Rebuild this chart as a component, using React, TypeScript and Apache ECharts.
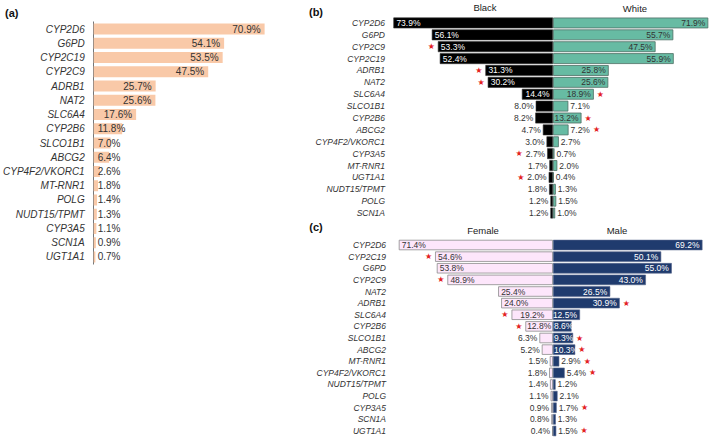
import React, { useEffect, useRef } from "react";
import * as echarts from "echarts";

const aGenes = ["CYP2D6", "G6PD", "CYP2C19", "CYP2C9", "ADRB1", "NAT2", "SLC6A4", "CYP2B6", "SLCO1B1", "ABCG2", "CYP4F2/VKORC1", "MT-RNR1", "POLG", "NUDT15/TPMT", "CYP3A5", "SCN1A", "UGT1A1"];
const aValues = [70.9, 54.1, 53.5, 47.5, 25.7, 25.6, 17.6, 11.8, 7.0, 6.4, 2.6, 1.8, 1.4, 1.3, 1.1, 0.9, 0.7];

const bGenes = ["CYP2D6", "G6PD", "CYP2C9", "CYP2C19", "ADRB1", "NAT2", "SLC6A4", "SLCO1B1", "CYP2B6", "ABCG2", "CYP4F2/VKORC1", "CYP3A5", "MT-RNR1", "UGT1A1", "NUDT15/TPMT", "POLG", "SCN1A"];
const blackValues = [73.9, 56.1, 53.3, 52.4, 31.3, 30.2, 14.4, 8.0, 8.2, 4.7, 3.0, 2.7, 1.7, 2.0, 1.8, 1.2, 1.2];
const whiteValues = [71.9, 55.7, 47.5, 55.9, 25.8, 25.6, 18.9, 7.1, 13.2, 7.2, 2.7, 0.7, 2.0, 0.4, 1.3, 1.5, 1.0];
const blackStars = ["CYP2C9", "ADRB1", "NAT2", "CYP3A5", "UGT1A1"];
const whiteStars = ["SLC6A4", "CYP2B6", "ABCG2"];

const cGenes = ["CYP2D6", "CYP2C19", "G6PD", "CYP2C9", "NAT2", "ADRB1", "SLC6A4", "CYP2B6", "SLCO1B1", "ABCG2", "MT-RNR1", "CYP4F2/VKORC1", "NUDT15/TPMT", "POLG", "CYP3A5", "SCN1A", "UGT1A1"];
const femaleValues = [71.4, 54.6, 53.8, 48.9, 25.4, 24.0, 19.2, 12.8, 6.3, 5.2, 1.5, 1.8, 1.4, 1.1, 0.9, 0.8, 0.4];
const maleValues = [69.2, 50.1, 55.0, 43.0, 26.5, 30.9, 12.5, 8.6, 9.3, 10.3, 2.9, 5.4, 1.2, 2.1, 1.7, 1.3, 1.5];
const femaleStars = ["CYP2C19", "CYP2C9", "SLC6A4", "CYP2B6"];
const maleStars = ["ADRB1", "SLCO1B1", "ABCG2", "MT-RNR1", "CYP4F2/VKORC1", "CYP3A5", "UGT1A1"];

const FONT = "'Liberation Sans', Arial, sans-serif";
const SMALL = 8.5;
const fmt = (v: number) => v.toFixed(1) + "%";
const textW = (v: number, fs: number) => {
  const s = fmt(v);
  let w = 0;
  for (const ch of s) w += ch === "." ? 0.278 : ch === "%" ? 0.889 : 0.556;
  return w * fs;
};

function leftLabel(v: number, insideColor: string) {
  if (v >= 20) return { position: "insideLeft", distance: 3, color: insideColor };
  if (v >= 12) return { position: "inside", color: insideColor };
  return { position: "left", distance: 2, color: "#333" };
}
function rightLabel(v: number, insideColor: string, allowStart: boolean) {
  if (v >= 12.2) return { position: "insideRight", distance: 3, color: insideColor };
  if (allowStart && v >= 8) return { position: "insideLeft", distance: 1, color: insideColor };
  return { position: "right", distance: 2, color: "#333" };
}

function sideSeries(
  name: string,
  genes: string[],
  values: number[],
  stars: string[],
  side: "left" | "right",
  xIdx: number,
  yIdx: number,
  itemStyle: any,
  insideColor: string,
  allowStart: boolean,
  barWidth: number
) {
  const main = {
    name,
    type: "bar",
    xAxisIndex: xIdx,
    yAxisIndex: yIdx,
    barWidth,
    barGap: "-100%",
    itemStyle,
    label: { show: true, fontSize: SMALL, fontFamily: FONT, formatter: (p: any) => fmt(p.value) },
    data: values.map((v) => ({
      value: v,
      label: side === "left" ? leftLabel(v, insideColor) : rightLabel(v, insideColor, allowStart),
    })),
  };
  const starSeries = {
    name: name + "-stars",
    type: "bar",
    xAxisIndex: xIdx,
    yAxisIndex: yIdx,
    barWidth,
    barGap: "-100%",
    silent: true,
    itemStyle: { color: "rgba(0,0,0,0)" },
    label: { show: false },
    data: values.map((v, i) => {
      const starred = stars.includes(genes[i]);
      const lab = side === "left" ? leftLabel(v, insideColor) : rightLabel(v, insideColor, allowStart);
      const outside = lab.position === "left" || lab.position === "right";
      return {
        value: v,
        label: {
          show: starred,
          position: side,
          distance: outside ? 2 + textW(v, SMALL) + 3 : 3,
          formatter: "★",
          color: "#e3231f",
          fontSize: 8,
          fontFamily: "DejaVu Sans, sans-serif",
        },
      };
    }),
  };
  return [main, starSeries];
}

export default function App() {
  const ref = useRef<HTMLDivElement>(null);
  useEffect(() => {
    if (!ref.current) return;
    const chart = echarts.init(ref.current, null, { renderer: "svg" });
    const yLabelSmall = { fontSize: SMALL, fontStyle: "italic", color: "#333", fontFamily: FONT, interval: 0 };
    const option: any = {
      animation: false,
      backgroundColor: "#fff",
      grid: [
        { left: 93, top: 21.9, width: 181.5, height: 242.2 },
        { left: 391, top: 17, width: 162, height: 202 },
        { left: 553, top: 17, width: 155.5, height: 202 },
        { left: 391, top: 239.2, width: 162, height: 197.6 },
        { left: 553, top: 239.2, width: 155.5, height: 197.6 },
      ],
      xAxis: [
        { type: "value", gridIndex: 0, min: 0, max: 75, show: false },
        { type: "value", gridIndex: 1, min: 0, max: 75, inverse: true, show: false },
        { type: "value", gridIndex: 2, min: 0, max: 72, show: false },
        { type: "value", gridIndex: 3, min: 0, max: 75, inverse: true, show: false },
        { type: "value", gridIndex: 4, min: 0, max: 72, show: false },
      ],
      yAxis: [
        {
          type: "category", gridIndex: 0, data: aGenes, inverse: true,
          axisLine: { show: true, lineStyle: { color: "#777", width: 1 } },
          axisTick: { show: false },
          axisLabel: { fontSize: 10, fontStyle: "italic", color: "#333", fontFamily: FONT, margin: 9, interval: 0 },
        },
        {
          type: "category", gridIndex: 1, data: bGenes, inverse: true, position: "left",
          axisLine: { show: false, onZero: false }, axisTick: { show: false },
          axisLabel: { ...yLabelSmall, margin: 6 },
        },
        { type: "category", gridIndex: 2, data: bGenes, inverse: true, show: false },
        {
          type: "category", gridIndex: 3, data: cGenes, inverse: true, position: "left",
          axisLine: { show: false, onZero: false }, axisTick: { show: false },
          axisLabel: { ...yLabelSmall, margin: 5 },
        },
        { type: "category", gridIndex: 4, data: cGenes, inverse: true, show: false },
      ],
      series: [
        {
          name: "All",
          type: "bar",
          xAxisIndex: 0,
          yAxisIndex: 0,
          barWidth: 11,
          itemStyle: { color: "#f9c9a8" },
          label: { show: true, fontSize: 10, color: "#333", fontFamily: FONT, formatter: (p: any) => fmt(p.value) },
          data: aValues.map((v) => ({
            value: v,
            label: v >= 13 ? { position: "insideRight", distance: 4 } : { position: "insideLeft", distance: 4 },
          })),
        },
        ...sideSeries("Black", bGenes, blackValues, blackStars, "left", 1, 1,
          { color: "#000", borderColor: "#333", borderWidth: 0.6 }, "#fff", false, 10.8),
        ...sideSeries("White", bGenes, whiteValues, whiteStars, "right", 2, 2,
          { color: "#67bba3", borderColor: "#4e6e65", borderWidth: 0.8 }, "#333", false, 10.8),
        ...sideSeries("Female", cGenes, femaleValues, femaleStars, "left", 3, 3,
          { color: "#fde6fb", borderColor: "#8c8c8c", borderWidth: 0.8 }, "#333", false, 10.4),
        ...sideSeries("Male", cGenes, maleValues, maleStars, "right", 4, 4,
          { color: "#1f3b6e", borderColor: "#55658a", borderWidth: 0.6 }, "#fff", true, 10.4),
      ],
      graphic: [
        { type: "text", left: 5, top: 7, style: { text: "(a)", fontSize: 11, fontWeight: "bold", fill: "#111", fontFamily: FONT } },
        { type: "text", x: 316, y: 12, style: { text: "(b)", fontSize: 11, fontWeight: "bold", fill: "#111", fontFamily: FONT, align: "center", verticalAlign: "middle" } },
        { type: "text", x: 316, y: 227, style: { text: "(c)", fontSize: 11, fontWeight: "bold", fill: "#111", fontFamily: FONT, align: "center", verticalAlign: "middle" } },
        { type: "text", x: 485, y: 7, style: { text: "Black", fontSize: 9.5, fill: "#222", fontFamily: FONT, align: "center", verticalAlign: "middle" } },
        { type: "text", x: 635, y: 8, style: { text: "White", fontSize: 9.5, fill: "#222", fontFamily: FONT, align: "center", verticalAlign: "middle" } },
        { type: "text", x: 483, y: 230, style: { text: "Female", fontSize: 9.5, fill: "#222", fontFamily: FONT, align: "center", verticalAlign: "middle" } },
        { type: "text", x: 617, y: 230, style: { text: "Male", fontSize: 9.5, fill: "#222", fontFamily: FONT, align: "center", verticalAlign: "middle" } },
      ],
    };
    chart.setOption(option);
    return () => chart.dispose();
  }, []);
  return <div ref={ref} style={{ position: "fixed", left: 0, top: 0, width: 709, height: 440 }} />;
}
